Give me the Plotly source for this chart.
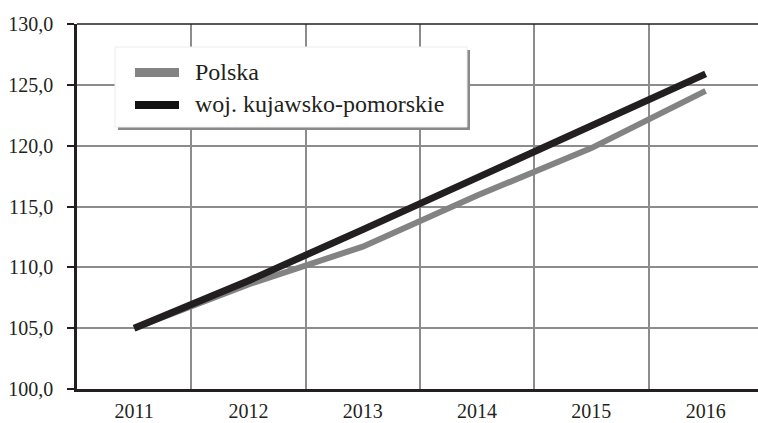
import plotly.graph_objects as go

years = ["2011", "2012", "2013", "2014", "2015", "2016"]
polska = [105.0, 108.6, 111.7, 115.9, 119.8, 124.5]
kujawsko = [105.0, 108.9, 113.1, 117.4, 121.7, 125.9]
series_names = ["Polska", "woj. kujawsko-pomorskie"]
y_ticks = [100, 105, 110, 115, 120, 125, 130]

W, H = 758, 423
L, T, B = 77, 24, 389
R = 758
FONT = "Times New Roman"
BLACK = "#231f20"
GRAY = "#838383"

def px(x):
    return (x - L) / (R - L)

def py(y):
    return (B - y) / (B - T)

fig = go.Figure()
fig.add_trace(go.Scatter(x=years, y=polska, mode="lines", name=series_names[0],
                         line=dict(color=GRAY, width=6), showlegend=False))
fig.add_trace(go.Scatter(x=years, y=kujawsko, mode="lines", name=series_names[1],
                         line=dict(color=BLACK, width=7), showlegend=False))

shapes = []
shapes.append(dict(type="line", xref="paper", yref="paper", x0=0, x1=1, y0=1, y1=1,
                   line=dict(color=BLACK, width=1.5), layer="above"))
shapes.append(dict(type="rect", xref="paper", yref="paper", x0=px(118), x1=px(470), y0=py(130), y1=py(50),
                   fillcolor="#8a8a8a", line=dict(width=0), layer="above"))
shapes.append(dict(type="rect", xref="paper", yref="paper", x0=px(115), x1=px(467), y0=py(127), y1=py(47),
                   fillcolor="white", line=dict(color="#ececec", width=1), layer="above"))
shapes.append(dict(type="rect", xref="paper", yref="paper", x0=px(135), x1=px(179), y0=py(77), y1=py(68),
                   fillcolor=GRAY, line=dict(width=0), layer="above"))
shapes.append(dict(type="rect", xref="paper", yref="paper", x0=px(135), x1=px(179), y0=py(109), y1=py(101),
                   fillcolor="#111111", line=dict(width=0), layer="above"))

annotations = [
    dict(xref="paper", yref="paper", x=px(193), y=py(72), text=series_names[0], showarrow=False,
         xanchor="left", yanchor="middle", font=dict(family=FONT, size=24, color=BLACK)),
    dict(xref="paper", yref="paper", x=px(193), y=py(104), text=series_names[1], showarrow=False,
         xanchor="left", yanchor="middle", font=dict(family=FONT, size=24, color=BLACK)),
]

fig.update_layout(
    width=W, height=H,
    margin=dict(l=L, r=W - R, t=T, b=H - B, autoexpand=False),
    paper_bgcolor="white", plot_bgcolor="white",
    separators=", ",
    font=dict(family=FONT, size=20, color=BLACK),
    shapes=shapes, annotations=annotations,
    showlegend=False,
)
fig.update_xaxes(
    type="category", range=[-0.5, 5.458], tickson="boundaries",
    showgrid=True, gridcolor="#8c8c8c", gridwidth=1.5,
    showline=True, linecolor=BLACK, linewidth=2.5,
    ticks="", ticklabelstandoff=2, automargin=False,
    tickfont=dict(family=FONT, size=20, color=BLACK),
)
fig.update_yaxes(
    range=[100, 130], tickvals=y_ticks, tickformat=".1f",
    showgrid=True, gridcolor="#8c8c8c", gridwidth=1.5,
    showline=True, linecolor=BLACK, linewidth=2.5,
    ticks="outside", ticklen=7, tickwidth=2, tickcolor=BLACK,
    ticklabelstandoff=10, zeroline=False, automargin=False,
    tickfont=dict(family=FONT, size=20, color=BLACK),
)

fig.write_html("out.html", config={"displayModeBar": False},
               post_script="document.body.style.margin='0';document.body.style.overflow='hidden';")
